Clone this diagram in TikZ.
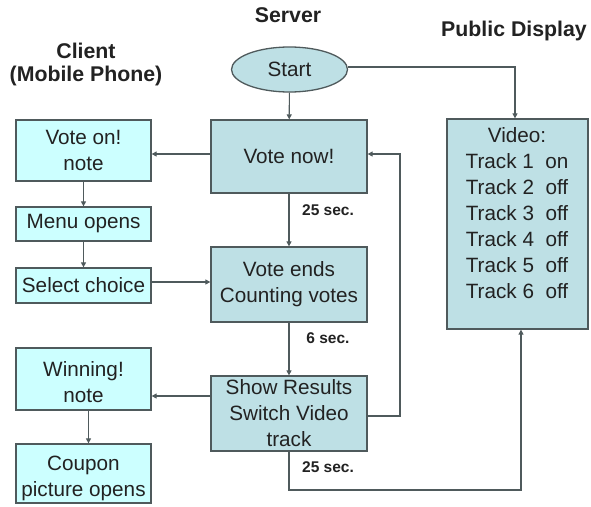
\documentclass[tikz,border=0pt]{standalone}
\usepackage{fontspec}
\setmainfont{Liberation Sans}
\usetikzlibrary{arrows.meta,shapes.geometric}
\definecolor{srvfill}{HTML}{BEE0E5}
\definecolor{clifill}{HTML}{CCFFFF}
\definecolor{edge}{HTML}{4F5A5C}
\definecolor{ink}{HTML}{222222}
\tikzset{
  base/.style={draw=edge, line width=1.3pt, text=ink, align=center, inner sep=0pt,
    font=\fontsize{20.7}{26}\selectfont},
  srv/.style={base, fill=srvfill, minimum width=156pt},
  cli/.style={base, fill=clifill, minimum width=135pt},
  head/.style={text=ink, align=center, font=\fontsize{21.3}{23.5}\selectfont\bfseries},
  delay/.style={text=ink, font=\fontsize{15.5}{17}\selectfont\bfseries},
  arr/.style={draw=edge, line width=1.1pt, -{Triangle[length=5pt,width=5pt]}}
}
\begin{document}
\begin{tikzpicture}[x=1pt,y=-1pt]
\useasboundingbox[fill=white] (0,0) rectangle (591,506);

% column headings
\node[head] (hcli) at (86,64.5) {Client\\(Mobile Phone)};
\node[head] (hsrv) at (288,15) {Server};
\node[head] (hpub) at (514,31) {Public Display};

% server column
\node[srv, ellipse, minimum width=116pt, minimum height=45pt] (start) at (289.5,69.5) {Start};
\node[srv, minimum height=73pt] (vnow) at (289,156.5) {Vote now!};
\node[srv, minimum height=75pt] (vends) at (289,284.5) {Vote ends\\Counting votes};
\node[srv, minimum height=75pt] (show) at (289,413.5) {Show Results\\Switch Video\\track};

% client column
\node[cli, minimum height=61pt] (von) at (83.5,150.5) {Vote on!\\note};
\node[cli, minimum height=34pt] (menu) at (83.5,224) {Menu opens};
\node[cli, minimum height=35pt] (select) at (83.5,285.5) {Select choice};
\node[cli, minimum height=62pt] (win) at (83.5,379) {\rule{0pt}{21pt}Winning!\\note};
\node[cli, minimum height=59pt] (coupon) at (83.5,473.5) {\rule{0pt}{24pt}Coupon\\picture opens};

% public display
\node[srv, minimum width=141pt, minimum height=210pt] (video) at (517.5,224) {};
\node[text=ink, align=center, anchor=north, font=\fontsize{20.7}{26}\selectfont] (tracks) at (517,124)
  {Video:\\Track 1\ \ on\\Track 2\ \ off\\Track 3\ \ off\\Track 4\ \ off\\Track 5\ \ off\\Track 6\ \ off};

% timing labels
\node[delay] (d1) at (328,210) {25 sec.};
\node[delay] (d2) at (328,338) {6 sec.};
\node[delay] (d3) at (328,467) {25 sec.};

% helper points for the routed connectors
\coordinate (loop) at (400,0);
\coordinate (bend) at (289,490);
\coordinate (vin) at ([yshift=2.5pt]vnow.east);

% connectors
\draw[arr] (start) -- (vnow);
\draw[arr] (vnow) -- (vends);
\draw[arr] (vends) -- (show);
\draw[arr] ([yshift=2.5pt]vnow.west) -- ([yshift=2.5pt]vnow.west -| von.east);
\draw[arr] (von) -- (menu);
\draw[arr] (menu) -- (select);
\draw[arr] ([yshift=3.5pt]select.east) -- ([yshift=3.5pt]select.east -| vends.west);
\draw[arr] ([yshift=17.5pt]show.west) -- ([yshift=17.5pt]show.west -| win.east);
\draw[arr] ([xshift=5pt]win.south) -- ([xshift=5pt]coupon.north);
\draw[arr] ([yshift=-2.5pt]show.east) -| (loop |- vin) -- (vin);
\draw[arr] ([yshift=2.5pt]start.east) -| ([xshift=-2.5pt]video.north);
\draw[arr] (show.south) -- (bend) -| ([xshift=3.5pt]video.south);
\end{tikzpicture}
\end{document}
